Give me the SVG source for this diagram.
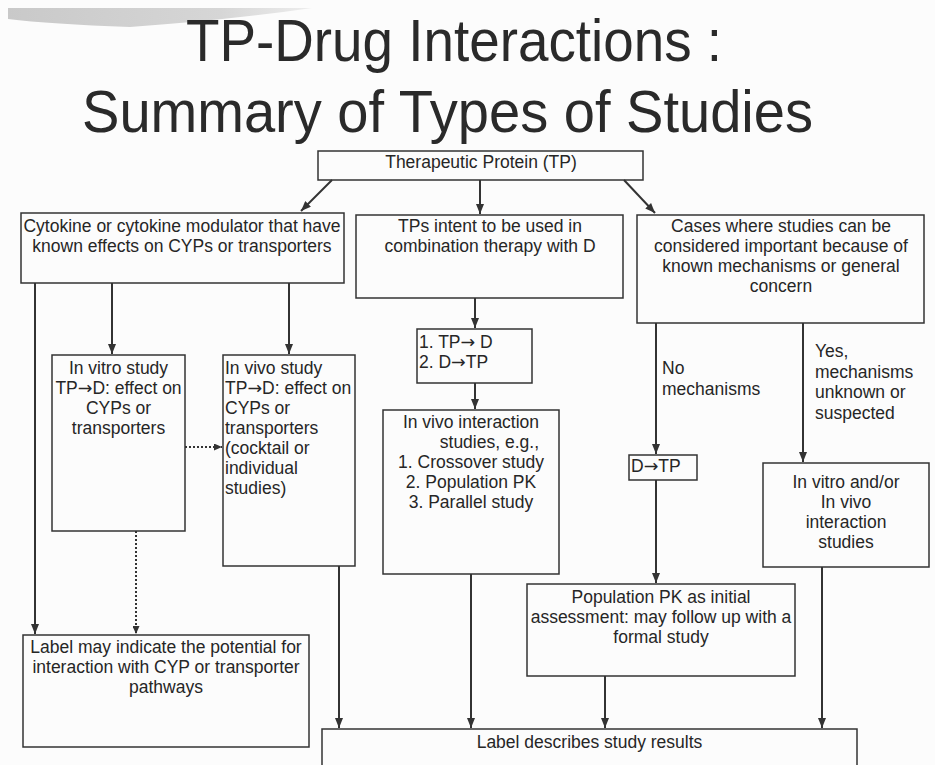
<svg xmlns="http://www.w3.org/2000/svg" width="935" height="765" viewBox="0 0 935 765">
<defs>
<marker id="ah" markerWidth="10" markerHeight="8" refX="10" refY="4" orient="auto" markerUnits="userSpaceOnUse"><path d="M0,0 L10,4 L0,8 z" fill="#333"/></marker>
<marker id="ahs" markerWidth="8" markerHeight="7" refX="8" refY="3.5" orient="auto" markerUnits="userSpaceOnUse"><path d="M0,0 L8,3.5 L0,7 z" fill="#333"/></marker>
<linearGradient id="smear" x1="0" y1="0" x2="1" y2="0"><stop offset="0" stop-color="#c9c9c9"/><stop offset="0.7" stop-color="#d6d6d6"/><stop offset="1" stop-color="#ededed"/></linearGradient>
<style>
.box{fill:none;stroke:#333;stroke-width:1.5}
.t{font-family:"Liberation Sans",Arial,sans-serif;font-size:17.5px;fill:#262626}
.ar{font-family:"DejaVu Sans",sans-serif;font-size:17.5px}
.c{text-anchor:middle}
.e{text-anchor:end}
.ti{font-family:"Liberation Sans",Arial,sans-serif;font-size:60px;fill:#2a2a2a}
.ln{stroke:#333;stroke-width:2;fill:none;marker-end:url(#ah)}
.dot{stroke:#333;stroke-width:2;fill:none;stroke-dasharray:2 2;marker-end:url(#ahs)}
</style>
</defs>
<rect width="935" height="765" fill="#fcfcfc"/>
<path d="M8,8 L312,8 Q230,20 130,27 Q50,24 8,19 Z" fill="url(#smear)"/>
<g id="title">
<text class="ti" x="186" y="61" textLength="536" lengthAdjust="spacingAndGlyphs">TP-Drug Interactions :</text>
<text class="ti" x="82" y="132" textLength="731" lengthAdjust="spacingAndGlyphs">Summary of Types of Studies</text>
</g>
<g id="connectors">
<line class="ln" x1="332" y1="180" x2="301" y2="211"/>
<line class="ln" x1="480" y1="180" x2="480" y2="214"/>
<line class="ln" x1="624" y1="180" x2="655" y2="213"/>
<line class="ln" x1="35" y1="283" x2="35" y2="634"/>
<line class="ln" x1="112" y1="283" x2="112" y2="354"/>
<line class="ln" x1="289" y1="283" x2="289" y2="354"/>
<line class="dot" x1="185" y1="447" x2="222" y2="447"/>
<line class="dot" x1="136" y1="531" x2="136" y2="634"/>
<line class="ln" x1="339" y1="566" x2="339" y2="728"/>
<line class="ln" x1="475" y1="298" x2="475" y2="328"/>
<line class="ln" x1="475" y1="383" x2="475" y2="409"/>
<line class="ln" x1="471" y1="574" x2="471" y2="728"/>
<line class="ln" x1="656" y1="323" x2="656" y2="454"/>
<line class="ln" x1="803" y1="323" x2="803" y2="462"/>
<line class="ln" x1="656" y1="480" x2="656" y2="583"/>
<line class="ln" x1="605" y1="676" x2="605" y2="728"/>
<line class="ln" x1="822" y1="567" x2="822" y2="728"/>
</g>
<g id="tp">
<rect class="box" x="318" y="151" width="325" height="29"/>
<text class="t c" x="481" y="168">Therapeutic Protein (TP)</text>
</g>
<g id="cytokine">
<rect class="box" x="21" y="213" width="323" height="70"/>
<text class="t c" x="182" y="232">Cytokine or cytokine modulator that have</text>
<text class="t c" x="182" y="252">known effects on CYPs or transporters</text>
</g>
<g id="tps">
<rect class="box" x="356" y="215" width="267" height="83"/>
<text class="t c" x="490" y="232">TPs intent to be used in</text>
<text class="t c" x="490" y="252">combination therapy with D</text>
</g>
<g id="cases">
<rect class="box" x="637" y="215" width="287" height="108"/>
<text class="t c" x="781" y="232">Cases where studies can be</text>
<text class="t c" x="781" y="252">considered important because of</text>
<text class="t c" x="781" y="272">known mechanisms or general</text>
<text class="t c" x="781" y="292">concern</text>
</g>
<g id="invitro">
<rect class="box" x="52" y="355" width="133" height="176"/>
<text class="t c" x="118.5" y="374">In vitro study</text>
<text class="t c" x="118.5" y="394">TP<tspan class="ar">→</tspan>D: effect on</text>
<text class="t c" x="118.5" y="414">CYPs or</text>
<text class="t c" x="118.5" y="434">transporters</text>
</g>
<g id="invivo">
<rect class="box" x="223" y="355" width="132" height="211"/>
<text class="t" x="225" y="374">In vivo study</text>
<text class="t" x="225" y="394">TP<tspan class="ar">→</tspan>D: effect on</text>
<text class="t" x="225" y="414">CYPs or</text>
<text class="t" x="225" y="434">transporters</text>
<text class="t" x="225" y="454">(cocktail or</text>
<text class="t" x="225" y="474">individual</text>
<text class="t" x="225" y="494">studies)</text>
</g>
<g id="directions">
<rect class="box" x="417" y="329" width="115" height="54"/>
<text class="t" x="419" y="348">1. TP<tspan class="ar">→</tspan> D</text>
<text class="t" x="419" y="368">2. D<tspan class="ar">→</tspan>TP</text>
</g>
<g id="interaction">
<rect class="box" x="383" y="410" width="176" height="164"/>
<text class="t c" x="471" y="428">In vivo interaction</text>
<text class="t e" x="539" y="448">studies, e.g.,</text>
<text class="t c" x="471" y="468">1. Crossover study</text>
<text class="t c" x="471" y="488">2. Population PK</text>
<text class="t c" x="471" y="508">3. Parallel study</text>
</g>
<g id="no-label">
<text class="t" x="662" y="374">No</text>
<text class="t" x="662" y="395">mechanisms</text>
</g>
<g id="yes-label">
<text class="t" x="815" y="357">Yes,</text>
<text class="t" x="815" y="378">mechanisms</text>
<text class="t" x="815" y="398">unknown or</text>
<text class="t" x="815" y="419">suspected</text>
</g>
<g id="dtp">
<rect class="box" x="629" y="455" width="68" height="25"/>
<text class="t" x="631" y="472">D<tspan class="ar">→</tspan>TP</text>
</g>
<g id="vitro-vivo">
<rect class="box" x="763" y="463" width="166" height="104"/>
<text class="t c" x="846" y="488">In vitro and/or</text>
<text class="t c" x="846" y="508">In vivo</text>
<text class="t c" x="846" y="528">interaction</text>
<text class="t c" x="846" y="548">studies</text>
</g>
<g id="poppk">
<rect class="box" x="527" y="584" width="268" height="92"/>
<text class="t c" x="661" y="603">Population PK as initial</text>
<text class="t c" x="661" y="623">assessment: may follow up with a</text>
<text class="t c" x="661" y="643">formal study</text>
</g>
<g id="label-may">
<rect class="box" x="23" y="635" width="286" height="112"/>
<text class="t c" x="166" y="653">Label may indicate the potential for</text>
<text class="t c" x="166" y="673">interaction with CYP or transporter</text>
<text class="t c" x="166" y="693">pathways</text>
</g>
<g id="label-describes">
<rect class="box" x="322" y="729" width="535" height="50"/>
<text class="t c" x="589.5" y="748">Label describes study results</text>
</g>
</svg>
